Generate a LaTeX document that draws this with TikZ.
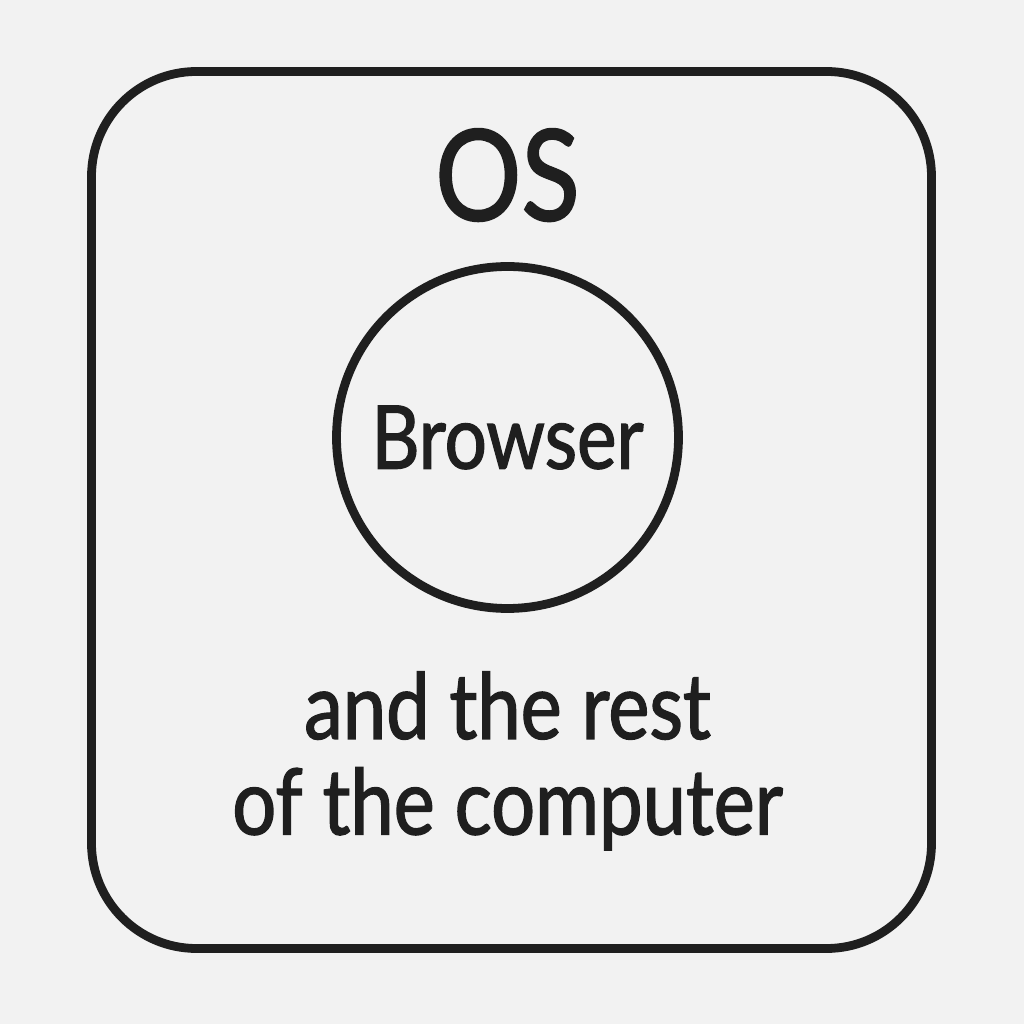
\documentclass[tikz,border=0pt]{standalone}
\usepackage{fontspec}
\setmainfont{Lato}[FakeStretch=0.85, FakeBold=1.5]
\usepackage{tikz}
\usetikzlibrary{positioning}

\begin{document}
\begin{tikzpicture}[font=\fontsize{26}{27.2}\selectfont]
		\tikzstyle{osbox} = [rectangle, rounded corners=1.05cm, minimum width=8.4cm, minimum height=8.77cm, draw=black!88, line width=2.5pt]
		\tikzstyle{browser} = [circle, minimum size=3.42cm, draw=black!88, line width=2.5pt, inner sep=0pt]
		\tikzstyle{label} = [text=black!88, align=center, inner sep=0pt]
		%-------------------------------------------------------
		% canvas of the picture
		\useasboundingbox[fill=black!5] (0,0) rectangle (10.24,10.24);
		
		\node (os) [osbox] at (5.115,5.14) {};
		
		\node (browser) [browser] at (5.075,5.865) {};
		\node (browsertext) [label, font=\fontsize{25}{30}\selectfont] at (browser.center) {Browser};
		
		\node (ostext) [label, font=\fontsize{36}{40}\selectfont, above=0.40cm of browser] {OS};
		
		\node (rest) [label, below=0.58cm of browser] {and the rest\\of the computer};
		\end{tikzpicture}
\end{document}
